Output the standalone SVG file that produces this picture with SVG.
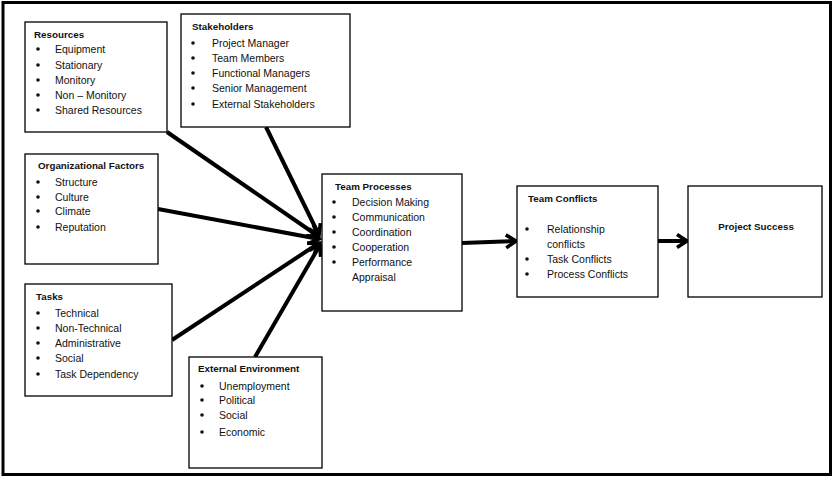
<svg xmlns="http://www.w3.org/2000/svg" width="835" height="481" viewBox="0 0 835 481">
<style>
.box{fill:#fff;stroke:#000;stroke-width:1.3}
.t{font-family:"Liberation Sans",Arial,sans-serif;font-size:10.5px;fill:#111}
.h{font-family:"Liberation Sans",Arial,sans-serif;font-size:9.8px;font-weight:bold;fill:#111}
.b{fill:#111}
.c{stroke:#000;stroke-width:4;fill:none;marker-end:url(#ah)}
</style>
<defs>
<marker id="ah" markerUnits="userSpaceOnUse" markerWidth="18" markerHeight="18" refX="13" refY="9" orient="auto">
<path d="M3,2.5 L13,9 L3,15.5" fill="none" stroke="#000" stroke-width="3.6" stroke-linejoin="miter"/>
</marker>
</defs>
<rect x="0" y="0" width="835" height="481" fill="#fff"/>
<rect x="3" y="2.5" width="827.5" height="472" fill="none" stroke="#000" stroke-width="3"/>

<g id="connectors">
<line class="c" x1="167" y1="132" x2="318" y2="236"/>
<line class="c" x1="266" y1="127" x2="319" y2="235"/>
<line class="c" x1="158" y1="209" x2="319" y2="239"/>
<line class="c" x1="172" y1="340" x2="319" y2="243"/>
<line class="c" x1="255" y1="357" x2="320" y2="245"/>
<line class="c" x1="462" y1="243" x2="516" y2="241"/>
<line class="c" x1="658" y1="241" x2="687" y2="241"/>
</g>

<g id="resources">
<rect class="box" x="25" y="22" width="142" height="110"/>
<text class="h" x="34" y="38">Resources</text>
<circle class="b" cx="38" cy="49" r="1.8"/><text class="t" x="55" y="52.5">Equipment</text>
<circle class="b" cx="38" cy="65" r="1.8"/><text class="t" x="55" y="68.5">Stationary</text>
<circle class="b" cx="38" cy="80" r="1.8"/><text class="t" x="55" y="83.5">Monitory</text>
<circle class="b" cx="38" cy="95" r="1.8"/><text class="t" x="55" y="98.5">Non – Monitory</text>
<circle class="b" cx="38" cy="110" r="1.8"/><text class="t" x="55" y="113.5">Shared Resources</text>
</g>

<g id="stakeholders">
<rect class="box" x="181" y="14" width="169" height="113"/>
<text class="h" x="192" y="30">Stakeholders</text>
<circle class="b" cx="193" cy="43" r="1.8"/><text class="t" x="212" y="46.5">Project Manager</text>
<circle class="b" cx="193" cy="58" r="1.8"/><text class="t" x="212" y="61.5">Team Members</text>
<circle class="b" cx="193" cy="73" r="1.8"/><text class="t" x="212" y="76.5">Functional Managers</text>
<circle class="b" cx="193" cy="88" r="1.8"/><text class="t" x="212" y="91.5">Senior Management</text>
<circle class="b" cx="193" cy="104" r="1.8"/><text class="t" x="212" y="107.5">External Stakeholders</text>
</g>

<g id="organizational-factors">
<rect class="box" x="25" y="154" width="133" height="110"/>
<text class="h" x="38" y="169">Organizational Factors</text>
<circle class="b" cx="38" cy="182" r="1.8"/><text class="t" x="55" y="185.5">Structure</text>
<circle class="b" cx="38" cy="197" r="1.8"/><text class="t" x="55" y="200.5">Culture</text>
<circle class="b" cx="38" cy="211" r="1.8"/><text class="t" x="55" y="214.5">Climate</text>
<circle class="b" cx="38" cy="227" r="1.8"/><text class="t" x="55" y="230.5">Reputation</text>
</g>

<g id="tasks">
<rect class="box" x="25" y="284" width="147" height="112"/>
<text class="h" x="36" y="300">Tasks</text>
<circle class="b" cx="38" cy="313" r="1.8"/><text class="t" x="55" y="316.5">Technical</text>
<circle class="b" cx="38" cy="328" r="1.8"/><text class="t" x="55" y="331.5">Non-Technical</text>
<circle class="b" cx="38" cy="343" r="1.8"/><text class="t" x="55" y="346.5">Administrative</text>
<circle class="b" cx="38" cy="358" r="1.8"/><text class="t" x="55" y="361.5">Social</text>
<circle class="b" cx="38" cy="374" r="1.8"/><text class="t" x="55" y="377.5">Task Dependency</text>
</g>

<g id="external-environment">
<rect class="box" x="189" y="357" width="133" height="111"/>
<text class="h" x="198" y="372">External Environment</text>
<circle class="b" cx="202" cy="386" r="1.8"/><text class="t" x="219" y="389.5">Unemployment</text>
<circle class="b" cx="202" cy="400" r="1.8"/><text class="t" x="219" y="403.5">Political</text>
<circle class="b" cx="202" cy="415" r="1.8"/><text class="t" x="219" y="418.5">Social</text>
<circle class="b" cx="202" cy="432" r="1.8"/><text class="t" x="219" y="435.5">Economic</text>
</g>

<g id="team-processes">
<rect class="box" x="322" y="174" width="140" height="137"/>
<text class="h" x="335" y="190">Team Processes</text>
<circle class="b" cx="334" cy="202" r="1.8"/><text class="t" x="352" y="205.5">Decision Making</text>
<circle class="b" cx="334" cy="217" r="1.8"/><text class="t" x="352" y="220.5">Communication</text>
<circle class="b" cx="334" cy="232" r="1.8"/><text class="t" x="352" y="235.5">Coordination</text>
<circle class="b" cx="334" cy="247" r="1.8"/><text class="t" x="352" y="250.5">Cooperation</text>
<circle class="b" cx="334" cy="262" r="1.8"/><text class="t" x="352" y="265.5">Performance</text>
<text class="t" x="352" y="280.5">Appraisal</text>
</g>

<g id="team-conflicts">
<rect class="box" x="517" y="186" width="141" height="111"/>
<text class="h" x="528" y="202">Team Conflicts</text>
<circle class="b" cx="527" cy="229" r="1.8"/><text class="t" x="547" y="232.5">Relationship</text>
<text class="t" x="547" y="247.5">conflicts</text>
<circle class="b" cx="527" cy="259" r="1.8"/><text class="t" x="547" y="262.5">Task Conflicts</text>
<circle class="b" cx="527" cy="274" r="1.8"/><text class="t" x="547" y="277.5">Process Conflicts</text>
</g>

<g id="project-success">
<rect class="box" x="688" y="186" width="134" height="111"/>
<text class="h" x="756" y="230" text-anchor="middle">Project Success</text>
</g>
</svg>
